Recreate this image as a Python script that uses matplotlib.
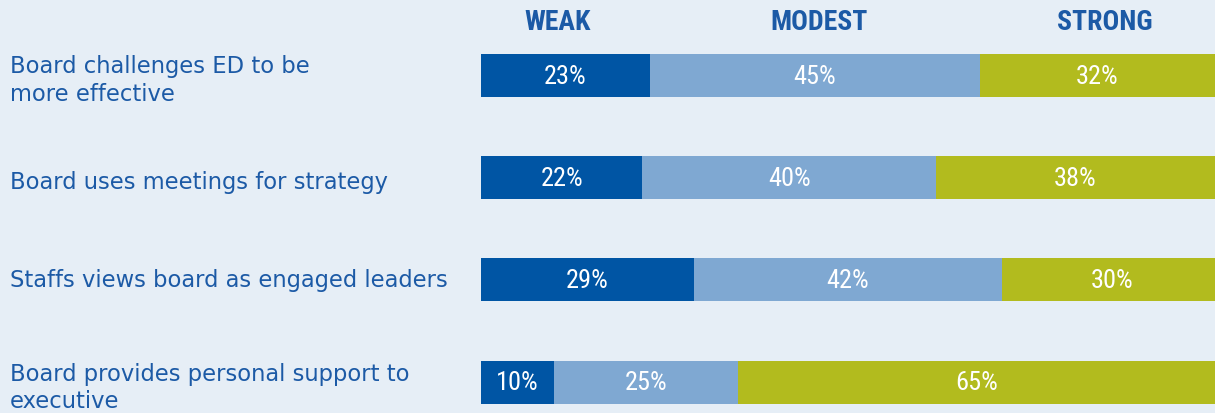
import matplotlib
matplotlib.use("Agg")
import matplotlib.pyplot as plt
from matplotlib import font_manager
from matplotlib.transforms import blended_transform_factory
import numpy as np

categories = [
    "Board challenges ED to be\nmore effective",
    "Board uses meetings for strategy",
    "Staffs views board as engaged leaders",
    "Board provides personal support to\nexecutive",
]
series_names = ["WEAK", "MODEST", "STRONG"]
weak = [23, 22, 29, 10]
modest = [45, 40, 42, 25]
strong = [32, 38, 30, 65]

colors = ["#0055a4", "#7fa8d2", "#b2bb1e"]
bg = "#e6eef6"
text_blue = "#1c5aa6"

# find a condensed / narrow family if one is installed
names = {f.name for f in font_manager.fontManager.ttflist}
narrow_name = None
for cand in ["Roboto Condensed", "Liberation Sans Narrow", "Open Sans Condensed",
             "DejaVu Sans Condensed", "Noto Sans Condensed"]:
    if cand in names:
        narrow_name = cand
        break
if narrow_name is None:
    for n in sorted(names):
        if "Condensed" in n or "Narrow" in n:
            narrow_name = n
            break
if narrow_name is not None:
    narrow = [narrow_name, "DejaVu Sans"]
    pct_size, head_size = 19, 20
else:
    narrow = ["DejaVu Sans"]
    pct_size, head_size = 15, 16

fig = plt.figure(figsize=(12.15, 4.14), dpi=100, facecolor=bg)
ax = fig.add_axes([481 / 1215, 0, 1 - 481 / 1215, 1])
ax.set_facecolor(bg)

y = np.arange(len(categories))
left = np.zeros(len(categories))
for name, vals, c in zip(series_names, [weak, modest, strong], colors):
    vals = np.array(vals, dtype=float)
    ax.barh(y, vals, left=left, height=0.42, color=c, edgecolor="none")
    for yi, l, v in zip(y, left, vals):
        ax.text(l + v / 2, yi, f"{int(v)}%", ha="center", va="center",
                color="white", fontsize=pct_size, family=narrow)
    left += vals

ax.set_xlim(0, 100)
ax.set_ylim(3.302, -0.749)
ax.axis("off")

# Column headers
trans_h = blended_transform_factory(ax.transData, fig.transFigure)
header_x = [10.5, 46, 85]
for name, hx in zip(series_names, header_x):
    ax.text(hx, 1 - 23 / 414, name, transform=trans_h, ha="center", va="center",
            color=text_blue, fontsize=head_size, fontweight="bold", family=narrow)

# Category labels
trans_l = blended_transform_factory(fig.transFigure, ax.transData)
label_offsets = [0.04, 0.04, 0.0, 0.05]
for yi, cat, off in zip(y, categories, label_offsets):
    ax.text(10 / 1215, yi + off, cat, transform=trans_l, ha="left", va="center",
            color=text_blue, fontsize=16.3, linespacing=1.25, family=["DejaVu Sans"])

fig.savefig("out.png", dpi=100, facecolor=bg)
